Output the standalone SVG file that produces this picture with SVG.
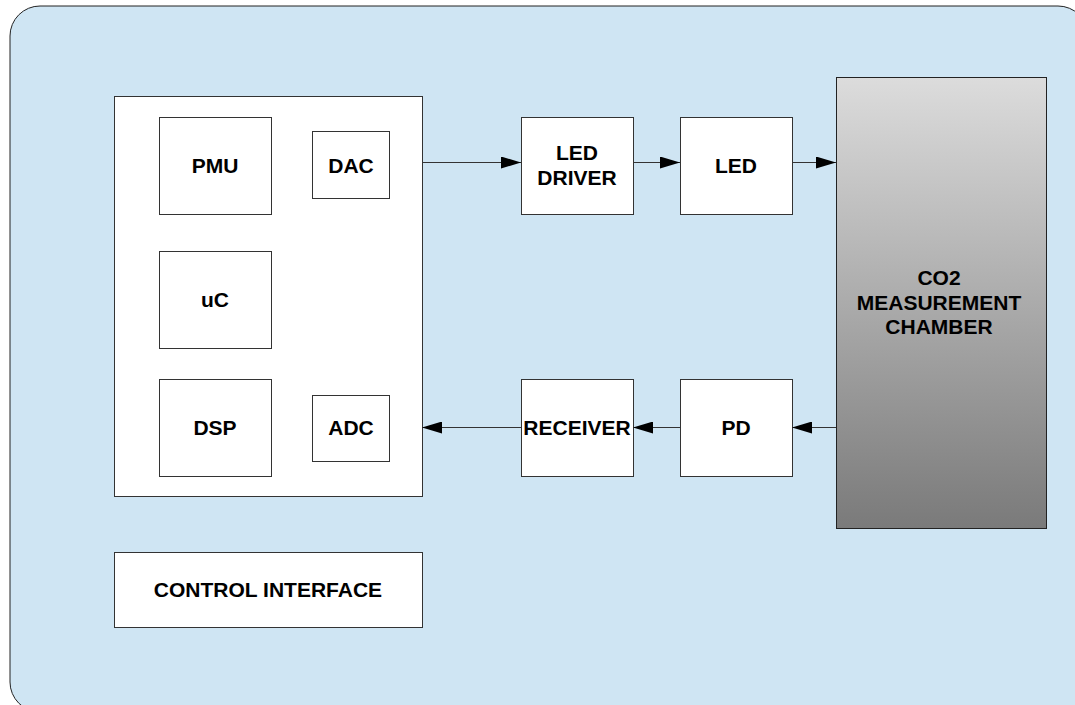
<svg xmlns="http://www.w3.org/2000/svg" width="1075" height="705" viewBox="0 0 1075 705">
<style>
.box{fill:#fff;stroke:#333;stroke-width:1}
.lbl{font-family:"Liberation Sans",Arial,sans-serif;font-weight:bold;font-size:21px;fill:#000;text-anchor:middle}
.conn{stroke:#333;stroke-width:1;fill:none}
</style>
<defs>
<linearGradient id="g" x1="0" y1="0" x2="0" y2="1">
<stop offset="0" stop-color="#dcdcdc"/>
<stop offset="1" stop-color="#7a7a7a"/>
</linearGradient>
<marker id="ah" viewBox="0 0 20 12" markerWidth="20" markerHeight="12" refX="20" refY="6" orient="auto" markerUnits="userSpaceOnUse">
<path d="M0,0 L20,6 L0,12 Z" fill="#000"/>
</marker>
</defs>
<rect x="10" y="6" width="1078" height="706" rx="30" fill="#cfe5f3" stroke="#222" stroke-width="1"/>
<g id="mcu"><rect class="box" x="114.5" y="96.5" width="308" height="400"/></g>
<g id="pmu"><rect class="box" x="159.5" y="117.5" width="112" height="97"/><text class="lbl" x="215" y="172.5">PMU</text></g>
<g id="dac"><rect class="box" x="312.5" y="131.5" width="77" height="67"/><text class="lbl" x="351" y="172.5">DAC</text></g>
<g id="uc"><rect class="box" x="159.5" y="251.5" width="112" height="97"/><text class="lbl" x="215" y="306.5">uC</text></g>
<g id="dsp"><rect class="box" x="159.5" y="379.5" width="112" height="97"/><text class="lbl" x="215" y="434.5">DSP</text></g>
<g id="adc"><rect class="box" x="312.5" y="395.5" width="77" height="66"/><text class="lbl" x="351" y="434.5">ADC</text></g>
<g id="leddriver"><rect class="box" x="521.5" y="117.5" width="112" height="97"/><text class="lbl" x="577" y="160">LED</text><text class="lbl" x="577" y="184.5">DRIVER</text></g>
<g id="led"><rect class="box" x="680.5" y="117.5" width="112" height="97"/><text class="lbl" x="736" y="172.5">LED</text></g>
<g id="chamber"><rect x="836.5" y="77.5" width="210" height="451" fill="url(#g)" stroke="#222" stroke-width="1"/><text class="lbl" x="939" y="285">CO2</text><text class="lbl" x="939" y="310">MEASUREMENT</text><text class="lbl" x="939" y="334">CHAMBER</text></g>
<g id="receiver"><rect class="box" x="521.5" y="379.5" width="112" height="97"/><text class="lbl" x="577" y="434.5">RECEIVER</text></g>
<g id="pd"><rect class="box" x="680.5" y="379.5" width="112" height="97"/><text class="lbl" x="736" y="434.5">PD</text></g>
<g id="control"><rect class="box" x="114.5" y="552.5" width="308" height="75"/><text class="lbl" x="268" y="596.5">CONTROL INTERFACE</text></g>
<g id="connectors">
<line class="conn" x1="422" y1="162.5" x2="521" y2="162.5" marker-end="url(#ah)"/>
<line class="conn" x1="633" y1="162.5" x2="680" y2="162.5" marker-end="url(#ah)"/>
<line class="conn" x1="792" y1="162.5" x2="836" y2="162.5" marker-end="url(#ah)"/>
<line class="conn" x1="836" y1="427.5" x2="792" y2="427.5" marker-end="url(#ah)"/>
<line class="conn" x1="680" y1="427.5" x2="633" y2="427.5" marker-end="url(#ah)"/>
<line class="conn" x1="521" y1="427.5" x2="422" y2="427.5" marker-end="url(#ah)"/>
</g>
</svg>
